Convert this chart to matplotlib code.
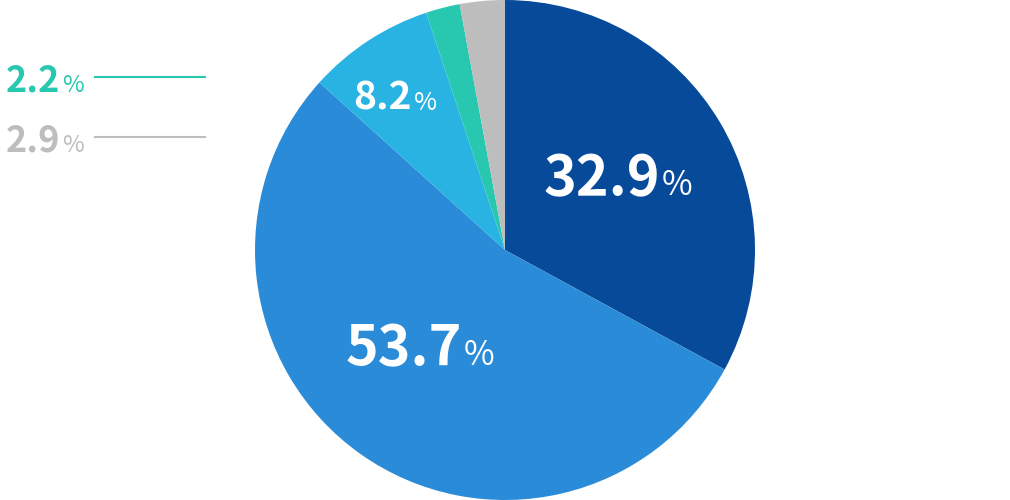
import matplotlib.pyplot as plt

values = [32.9, 53.7, 8.2, 2.2, 2.9]
colors = ["#074A9A", "#2A8BD8", "#29B3E3", "#28C8B0", "#BDBDBD"]
inside = [(660, 195, 40, 24), (462, 365, 40, 24), (412, 110, 28, 18)]  # px x-split, baseline, sizes
outside = [(3, 60, 92), (4, 60, 152)]  # index, x-split, baseline

W, H = 1010, 500
plt.rcParams['font.family'] = ['Noto Sans CJK JP', 'DejaVu Sans']
fig = plt.figure(figsize=(W / 100, H / 100), dpi=100)
ax = fig.add_axes([(505 - 251) / W, 0, 502 / W, 1])
ax.pie(values, colors=colors, startangle=90, counterclock=False, radius=1,
       wedgeprops=dict(linewidth=0))
ax.set_xlim(-1, 1)
ax.set_ylim(-1, 1)
ax.set_aspect('equal')
ax.axis('off')

for v, (xs, yb, s1, s2) in zip(values, inside):
    fig.text(xs / W, 1 - yb / H, f"{v:.1f}", color="white", fontsize=s1,
             fontweight="bold", ha="right", va="baseline")
    fig.text((xs + 2) / W, 1 - yb / H, "%", color="white", fontsize=s2,
             ha="left", va="baseline")

for i, xs, yb in outside:
    c = colors[i]
    fig.text(xs / W, 1 - yb / H, f"{values[i]:.1f}", color=c, fontsize=26,
             fontweight="bold", ha="right", va="baseline")
    fig.text((xs + 2) / W, 1 - yb / H, "%", color=c, fontsize=17,
             ha="left", va="baseline")
    y = 1 - (yb - 15) / H
    fig.add_artist(plt.Line2D([95 / W, 205 / W], [y, y], color=c, lw=1.5))

fig.savefig("out.png", dpi=100)
